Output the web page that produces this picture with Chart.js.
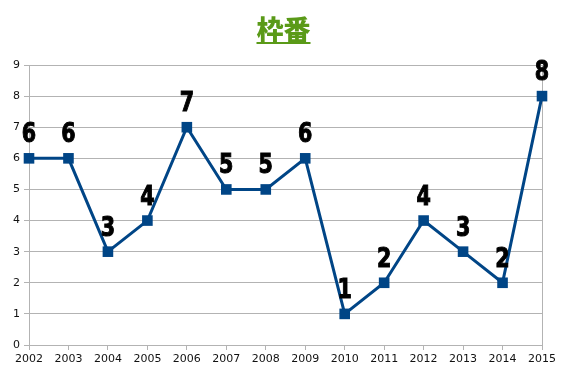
<!DOCTYPE html>
<html>
<head>
<meta charset="utf-8">
<script src="https://cdn.jsdelivr.net/npm/chart.js@4"></script>
<style>
  html, body { margin: 0; padding: 0; background: #fff; }
  #wrap { position: relative; width: 567px; height: 378px; }
  #title {
    position: absolute; left: 0; top: 14px; width: 567px; text-align: center;
    font-family: "Noto Sans CJK JP", sans-serif; font-weight: 900; font-size: 27px;
    line-height: 30px; color: #5a9a18; text-decoration: underline; text-underline-offset: 2px;
  }
</style>
</head>
<body>
<div id="wrap">
  <canvas id="chart" width="567" height="378"></canvas>
  <div id="title">枠番</div>
</div>
<script>
const years = ['2002', '2003', '2004', '2005', '2006', '2007', '2008', '2009', '2010', '2011', '2012', '2013', '2014', '2015'];
const wakuban = [6, 6, 3, 4, 7, 5, 5, 6, 1, 2, 4, 3, 2, 8];
const yTicks = [0, 1, 2, 3, 4, 5, 6, 7, 8, 9];

const gridGray = '#b3b3b3';
const lineBlue = '#004586';

// draw the big numbers above each point
const pointLabels = {
    id: 'pointLabels',
    afterDatasetsDraw(chart) {
        const ctx = chart.ctx;
        const meta = chart.getDatasetMeta(0);
        ctx.save();
        ctx.font = 'bold condensed 27px "DejaVu Sans", sans-serif';
        if ('fontStretch' in ctx) ctx.fontStretch = 'condensed';
        ctx.fillStyle = '#000';
        ctx.textAlign = 'center';
        ctx.textBaseline = 'alphabetic';
        meta.data.forEach((pt, i) => {
            ctx.save();
            ctx.translate(pt.x, pt.y - 16);
            ctx.scale(0.85, 1);
            ctx.fillText(String(wakuban[i]), 0, 0);
            ctx.strokeStyle = '#000';
            ctx.lineWidth = 1;
            ctx.strokeText(String(wakuban[i]), 0, 0);
            ctx.restore();
        });
        ctx.restore();
    }
};

const ctx = document.getElementById('chart').getContext('2d');
new Chart(ctx, {
    type: 'line',
    data: {
        labels: years,
        datasets: [{
            data: wakuban,
            borderColor: lineBlue,
            backgroundColor: lineBlue,
            borderWidth: 3,
            pointStyle: 'rect',
            pointRadius: 7.5,
            pointHoverRadius: 7.5,
            pointBorderWidth: 0,
            tension: 0,
            clip: false
        }]
    },
    options: {
        responsive: false,
        animation: false,
        events: [],
        layout: { padding: { top: 65, right: 25, left: 0, bottom: 0 } },
        plugins: { legend: { display: false }, tooltip: { enabled: false } },
        scales: {
            x: {
                offset: false,
                afterFit(scale) { scale.height = 33; },
                grid: {
                    color: c => c.index === years.length - 1 ? gridGray : 'rgba(0,0,0,0)',
                    tickColor: gridGray,
                    tickLength: 5
                },
                border: { color: gridGray },
                ticks: {
                    color: '#111',
                    font: { family: '"DejaVu Sans", sans-serif', size: 11 },
                    maxRotation: 0,
                    autoSkip: false,
                    padding: 3
                }
            },
            y: {
                min: 0,
                max: 9,
                afterFit(scale) { scale.width = 29; },
                afterBuildTicks(scale) { scale.ticks = yTicks.map(v => ({ value: v })); },
                grid: { color: gridGray, tickColor: gridGray, tickLength: 5 },
                border: { color: gridGray },
                ticks: {
                    color: '#111',
                    font: { family: '"DejaVu Sans", sans-serif', size: 11 },
                    padding: 4
                }
            }
        }
    },
    plugins: [pointLabels]
});
</script>
</body>
</html>
